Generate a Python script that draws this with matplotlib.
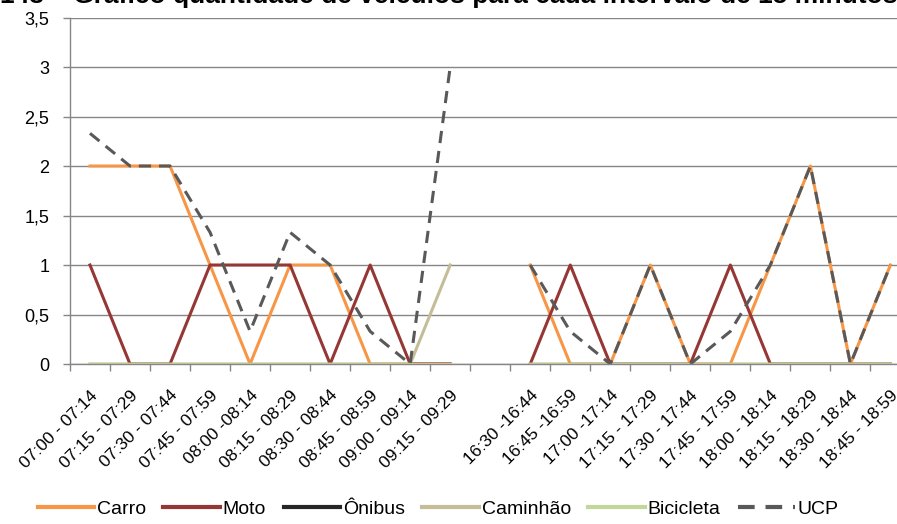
import numpy as np
import matplotlib.pyplot as plt

# Categories: morning block, one empty slot, afternoon block
intervalos = ["07:00 - 07:14", "07:15 - 07:29", "07:30 - 07:44", "07:45 - 07:59",
              "08:00 -08:14", "08:15 - 08:29", "08:30 - 08:44", "08:45 - 08:59",
              "09:00 - 09:14", "09:15 - 09:29", "",
              "16:30 -16:44", "16:45 -16:59", "17:00 -17:14", "17:15 - 17:29",
              "17:30 - 17:44", "17:45 - 17:59", "18:00 - 18:14", "18:15 - 18:29",
              "18:30 - 18:44", "18:45 - 18:59"]

nan = np.nan
carro = [2, 2, 2, 1, 0, 1, 1, 0, 0, 0, nan, 1, 0, 0, 1, 0, 0, 1, 2, 0, 1]
moto = [1, 0, 0, 1, 1, 1, 0, 1, 0, 0, nan, 0, 1, 0, 0, 0, 1, 0, 0, 0, 0]
onibus = [0, 0, 0, 0, 0, 0, 0, 0, 0, 0, nan, 0, 0, 0, 0, 0, 0, 0, 0, 0, 0]
caminhao = [0, 0, 0, 0, 0, 0, 0, 0, 0, 1, nan, 0, 0, 0, 0, 0, 0, 0, 0, 0, 0]
bicicleta = [0, 0, 0, 0, 0, 0, 0, 0, 0, 0, nan, 0, 0, 0, 0, 0, 0, 0, 0, 0, 0]
ucp = [2.33, 2, 2, 1.33, 0.33, 1.33, 1, 0.33, 0, 3, nan,
       1, 0.33, 0, 1, 0, 0.33, 1, 2, 0, 1]

yticks = [0, 0.5, 1, 1.5, 2, 2.5, 3, 3.5]
ytick_labels = ["0", "0,5", "1", "1,5", "2", "2,5", "3", "3,5"]

plt.rcParams['font.family'] = ['Liberation Sans', 'DejaVu Sans']

GRID = "#868686"

fig = plt.figure(figsize=(8.97, 5.24), dpi=100)
ax = fig.add_axes([0.078, 0.3053, 0.937, 0.6613])

x = np.arange(len(intervalos))
lw = 2.2
ax.plot(x, carro, color="#F79646", lw=lw, label="Carro")
ax.plot(x, moto, color="#953735", lw=lw, label="Moto")
ax.plot(x, onibus, color="#262626", lw=lw, label="Ônibus")
ax.plot(x, caminhao, color="#C4BD97", lw=lw, label="Caminhão")
ax.plot(x, bicicleta, color="#C3D69B", lw=lw, label="Bicicleta")
ax.plot(x, ucp, color="#595959", lw=lw, linestyle=(0, (4, 2.6)), label="UCP")

ax.set_xlim(-0.5, len(intervalos) - 0.5)
ax.set_ylim(0, 3.5)
ax.set_yticks(yticks)
ax.set_yticklabels(ytick_labels, fontsize=13)
ax.yaxis.grid(True, color=GRID, lw=1.0)
ax.set_axisbelow(True)

ax.set_xticks(x)
ax.set_xticklabels(intervalos, rotation=45, ha='right', rotation_mode='anchor', fontsize=12.5)
ax.set_xticks(np.arange(len(intervalos) + 1) - 0.5, minor=True)
ax.tick_params(axis='x', which='major', length=0, pad=17)
ax.tick_params(axis='x', which='minor', length=5, color=GRID, width=1)
ax.tick_params(axis='y', length=5, color=GRID, width=1, pad=10)

for s in ['top', 'right']:
    ax.spines[s].set_visible(False)
for s in ['left', 'bottom']:
    ax.spines[s].set_color(GRID)
    ax.spines[s].set_linewidth(1.0)

# title is cut off at the top edge in the source image
fig.text(0.0, 1 - 3 / 524,
         "143 – Gráfico quantidade de veículos para cada intervalo de 15 minutos",
         fontsize=19, fontweight='bold', ha='left', va='baseline')

leg = fig.legend(loc='center', bbox_to_anchor=(438 / 897, 1 - 509 / 524), ncol=6,
                 frameon=False, fontsize=14, handlelength=2.9, handletextpad=0.15,
                 columnspacing=0.9)
for h in leg.get_lines():
    h.set_linewidth(3.0)

plt.savefig("out.png", dpi=100)
